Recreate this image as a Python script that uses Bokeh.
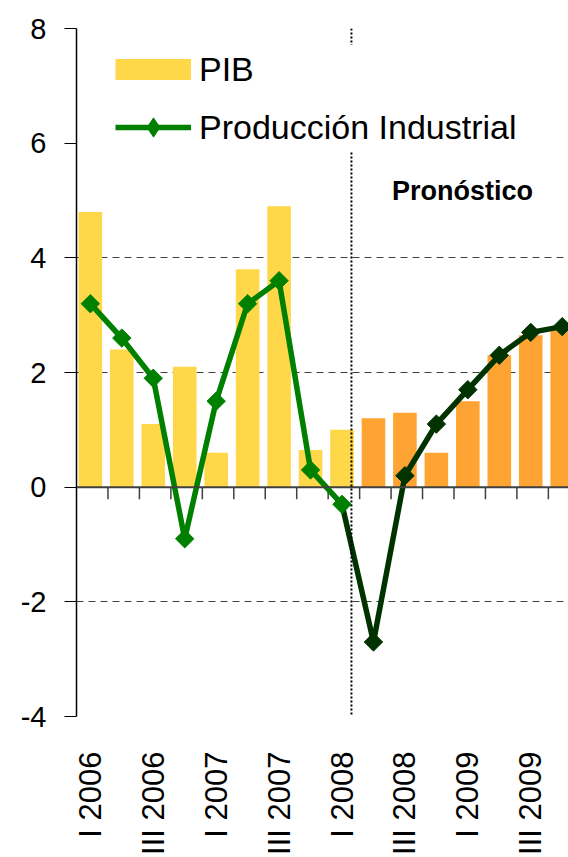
from math import pi
from bokeh.plotting import figure
from bokeh.models import Range1d, FixedTicker, Span, Legend, LegendItem, Label
from bokeh.embed import file_html
from bokeh.resources import INLINE

# ---- data ----
quarters = ["I 2006", "II 2006", "III 2006", "IV 2006",
            "I 2007", "II 2007", "III 2007", "IV 2007",
            "I 2008", "II 2008", "III 2008", "IV 2008",
            "I 2009", "II 2009", "III 2009", "IV 2009"]
pib = [4.8, 2.4, 1.1, 2.1, 0.6, 3.8, 4.9, 0.65, 1.0, 1.2, 1.3, 0.6, 1.5, 2.3, 2.65, 2.8]
prod_ind = [3.2, 2.6, 1.9, -0.9, 1.5, 3.2, 3.6, 0.3, -0.3, -2.7, 0.2, 1.1, 1.7, 2.3, 2.7, 2.8]
y_ticks = [-4, -2, 0, 2, 4, 6, 8]
grid_ticks = [-4, -2, 2, 4, 8]
forecast_start = 9          # first forecast quarter (II 2008)
forecast_label = "Pronóstico"

idx = list(range(len(quarters)))
hist_i = idx[:forecast_start]
fc_i = idx[forecast_start:]
pib_h = [pib[i] for i in hist_i]
pib_f = [pib[i] for i in fc_i]
prod_h = [prod_ind[i] for i in hist_i]
prod_f = [prod_ind[i] for i in fc_i]

FONT = "Liberation Sans"
YELLOW = "#FFD84A"
ORANGE = "#FFA433"
GREEN = "#008000"
DKGREEN = "#003300"
GRID = "#404040"

p = figure(width=568, height=857, output_backend="svg", toolbar_location=None,
           x_range=Range1d(-0.44, 15.2), y_range=Range1d(-4, 8),
           min_border_left=76, min_border_right=0, min_border_top=28, min_border_bottom=141)
p.outline_line_color = None
p.background_fill_color = "white"
p.border_fill_color = "white"

# grids
p.xgrid.grid_line_color = None
p.ygrid.ticker = FixedTicker(ticks=grid_ticks)
p.ygrid.grid_line_color = GRID
p.ygrid.grid_line_dash = "7 5"
p.ygrid.grid_line_width = 1

# y axis
p.yaxis.ticker = FixedTicker(ticks=y_ticks)
p.yaxis.major_label_overrides = {t: str(t) for t in y_ticks}
p.yaxis.axis_line_color = "black"
p.yaxis.axis_line_width = 1.5
p.yaxis.major_tick_out = 12
p.yaxis.major_tick_in = 0
p.yaxis.major_tick_line_color = "black"
p.yaxis.major_tick_line_width = 1.2
p.yaxis.minor_tick_line_color = None
p.yaxis.major_label_standoff = 18
p.yaxis.major_label_text_font = FONT
p.yaxis.major_label_text_font_size = "29px"
p.yaxis.major_label_text_color = "black"

# x axis (labels only, every other quarter)
p.xaxis.ticker = FixedTicker(ticks=idx[::2])
p.xaxis.major_label_overrides = {i: quarters[i] for i in idx[::2]}
p.xaxis.major_label_orientation = pi / 2
p.xaxis.axis_line_color = None
p.xaxis.major_tick_line_color = None
p.xaxis.minor_tick_line_color = None
p.xaxis.major_label_standoff = 29
p.xaxis.major_label_text_font = FONT
p.xaxis.major_label_text_font_size = "31px"
p.xaxis.major_label_text_color = "black"

# bars
bars_h = p.vbar(x=hist_i, top=pib_h, bottom=0, width=0.75, fill_color=YELLOW, line_color=None)
bars_f = p.vbar(x=fc_i, top=pib_f, bottom=0, width=0.75, fill_color=ORANGE, line_color=None)

# zero line with category boundary ticks
p.add_layout(Span(location=0, dimension="width", line_color=GRID, line_width=2))
bounds = [k - 0.44 for k in idx[1:]]
p.segment(x0=bounds, y0=[0] * len(bounds), x1=bounds, y1=[-0.21] * len(bounds),
          line_color=GRID, line_width=1.5)

# forecast divider
p.add_layout(Span(location=forecast_start - 0.7, dimension="height",
                  line_color="black", line_width=2, line_dash="2 2"))

# industrial production line
line_f = p.line(x=idx[forecast_start - 1:], y=prod_ind[forecast_start - 1:],
                line_color=DKGREEN, line_width=5.5)
line_h = p.line(x=hist_i, y=prod_h, line_color=GREEN, line_width=5.5)
mk_f = p.scatter(x=fc_i, y=prod_f, marker="square", angle=pi / 4,
                 size=13, fill_color=DKGREEN, line_color=DKGREEN)
mk_h = p.scatter(x=hist_i, y=prod_h, marker="square", angle=pi / 4,
                 size=13, fill_color=GREEN, line_color=GREEN)

# legend-only swatch styles (hidden in the plot area)
sw_pib = p.line(x=hist_i, y=pib_h, line_color=YELLOW, line_width=21, line_cap="butt", visible=False)
sw_mk = p.scatter(x=hist_i, y=prod_h, marker="diamond", size=18,
                  fill_color=GREEN, line_color=GREEN, visible=False)

# forecast label
p.add_layout(Label(x=11.83, y=5.16, text=forecast_label, text_font=FONT,
                   text_font_size="27px", text_font_style="bold", text_color="black",
                   text_align="center", text_baseline="middle"))

# legend
legend = Legend(items=[LegendItem(label="PIB", renderers=[sw_pib]),
                       LegendItem(label="Producción Industrial", renderers=[line_h, sw_mk])],
                location=(39, 565), orientation="vertical",
                padding=0, margin=0, spacing=10,
                glyph_width=76, glyph_height=48, label_standoff=8,
                label_text_font=FONT, label_text_font_size="34px", label_text_color="black",
                background_fill_color="white", background_fill_alpha=1.0,
                inactive_fill_alpha=0.0,
                border_line_color=None)
p.add_layout(legend)

open("out.html", "w").write(file_html(p, INLINE))
